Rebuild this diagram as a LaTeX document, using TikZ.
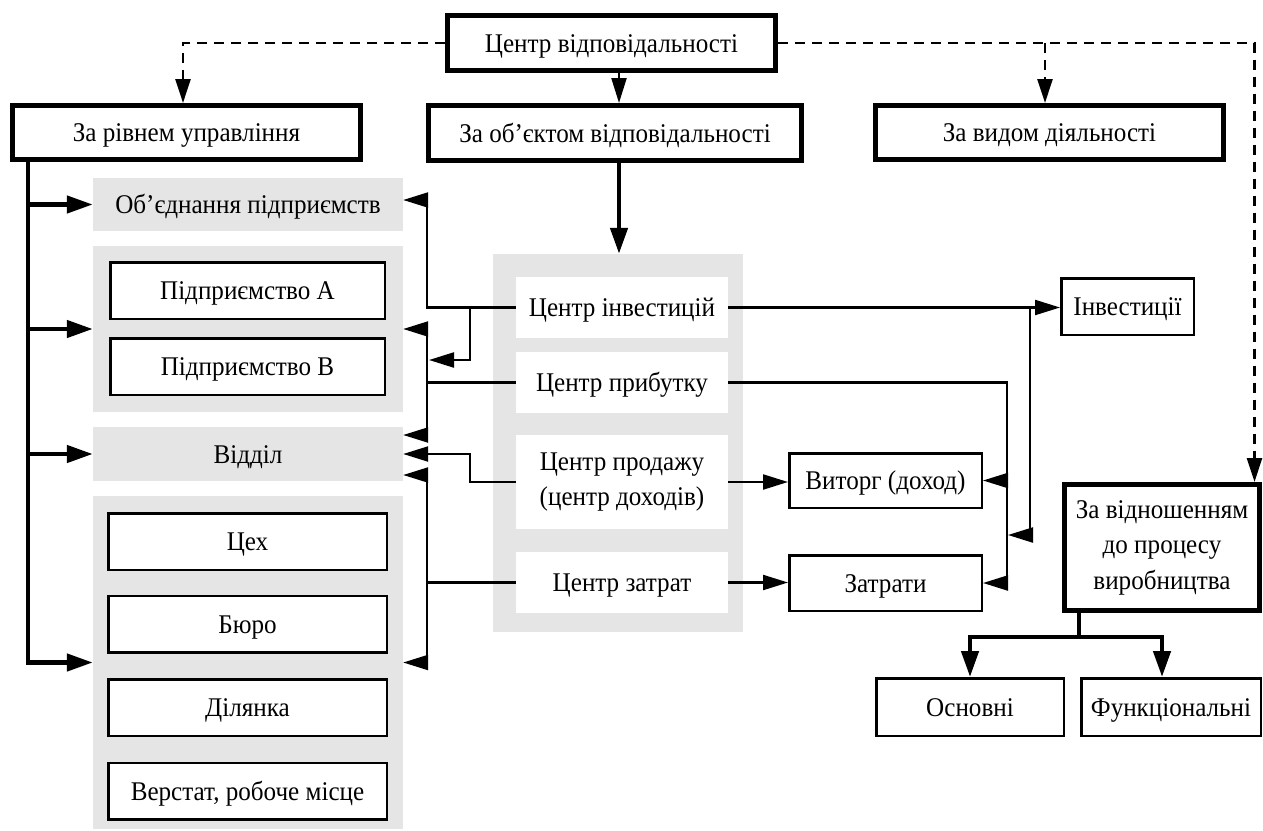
\documentclass[tikz,border=0pt]{standalone}
\usepackage{fontspec}
\setmainfont[FakeStretch=0.93]{Liberation Serif}
\usetikzlibrary{arrows.meta}
\definecolor{panelgray}{HTML}{E5E5E5}
\tikzset{
  every node/.style={font=\fontsize{27}{35.5}\selectfont, inner sep=0pt, align=center,
    text height=23pt, text depth=5pt},
  multi/.style={text height=, text depth=},
  bigbox/.style={draw, line width=5pt, fill=white},
  smallbox/.style={draw, line width=2.5pt, fill=white},
  panel/.style={fill=panelgray, draw=none},
  whitebox/.style={fill=white, draw=none},
  thinline/.style={line width=2.2pt},
  thickline/.style={line width=4.5pt},
  arr/.style={thinline, -{Triangle[length=25pt,width=15pt]}},
  tarr/.style={thickline, -{Triangle[length=26pt,width=17pt]}},
  dasharr/.style={line width=2.5pt, dash pattern=on 10pt off 7pt, -{Triangle[length=24pt,width=15pt]}},
}
\begin{document}
\begin{tikzpicture}[x=1pt,y=-1pt]
\useasboundingbox (0,0) rectangle (1263,830);
% panels
\node[panel, minimum width=310, minimum height=53] (union) at (248,204.5) {Об’єднання підприємств};
\node[panel, minimum width=310, minimum height=166] (entgrp) at (248,329) {};
\node[panel, minimum width=310, minimum height=54] (dept) at (248,454) {Відділ};
\node[panel, minimum width=310, minimum height=333] (shopgrp) at (248,662.5) {};
\node[panel, minimum width=250, minimum height=378] (cpanel) at (618,443) {};
% boxes inside panels
\node[smallbox, minimum width=274.5, minimum height=56.5] (entA) at (247.5,290.5) {Підприємство А};
\node[smallbox, minimum width=274.5, minimum height=56.5] (entB) at (247.5,366.5) {Підприємство В};
\node[smallbox, minimum width=278.5, minimum height=56.5] (shop) at (247.5,541.5) {Цех};
\node[smallbox, minimum width=278.5, minimum height=56.5] (bureau) at (247.5,624) {Бюро};
\node[smallbox, minimum width=278.5, minimum height=56.5] (site) at (247.5,707.5) {Ділянка};
\node[smallbox, minimum width=278.5, minimum height=56.5] (bench) at (247.5,791) {Верстат, робоче місце};
\node[whitebox, minimum width=212, minimum height=61] (ci) at (622,307.5) {Центр інвестицій};
\node[whitebox, minimum width=212, minimum height=61] (cp) at (622,382.5) {Центр прибутку};
\node[whitebox, multi, minimum width=212, minimum height=94] (cs) at (622,482) {Центр продажу\\(центр доходів)};
\node[whitebox, minimum width=212, minimum height=61] (cz) at (622,582.5) {Центр затрат};
% main boxes
\node[bigbox, minimum width=328, minimum height=55] (top) at (611.5,43) {Центр відповідальності};
\node[bigbox, minimum width=348, minimum height=54] (lvl) at (186.5,132.5) {За рівнем управління};
\node[bigbox, minimum width=373, minimum height=55] (obj) at (615,133) {За об’єктом відповідальності};
\node[bigbox, minimum width=348, minimum height=54] (act) at (1049.5,132.5) {За видом діяльності};
\node[bigbox, multi, minimum width=195, minimum height=126] (proc) at (1162,547.5) {За відношенням\\до процесу\\виробництва};
\node[smallbox, minimum width=187.5, minimum height=57.5] (main) at (970,707) {Основні};
\node[smallbox, minimum width=179.5, minimum height=57.5] (func) at (1171,707) {Функціональні};
\node[smallbox, minimum width=132.5, minimum height=56.5] (inv) at (1127.5,306.5) {Інвестиції};
\node[smallbox, minimum width=192.5, minimum height=54.5] (rev) at (885.5,480.5) {Виторг (доход)};
\node[smallbox, minimum width=192.5, minimum height=55.5] (cost) at (885.5,583) {Затрати};
% bend coordinates
\coordinate (trk) at (28,0);
\coordinate (bL) at (427,0);
\coordinate (bM) at (470,0);
\coordinate (bR1) at (1007,0);
\coordinate (bR2) at (1030,0);
\coordinate (jB) at (429,360);
\coordinate (jR) at (1008,535);
\coordinate (pj) at (1079,637);
\coordinate (uE) at ([yshift=4.5pt]union.east);
\coordinate (dA) at ([yshift=19pt]dept.east);
\coordinate (dC) at ([yshift=-21pt]dept.east);
% dashed connectors
\draw[dasharr] (top.west) -| ([xshift=-3.5pt]lvl.north);
\draw[dasharr] (top.east) -| ([xshift=-7.5pt]proc.north east);
\draw[dasharr] ([xshift=-4.5pt]act.north |- top.east) -- ([xshift=-4.5pt]act.north);
% top to object
\draw[arr] ([xshift=7.5pt]top.south) -- ([xshift=7.5pt]top.south |- obj.north);
\draw[tarr] ([xshift=4pt]obj.south) -- ([xshift=4pt]obj.south |- cpanel.north);
% left trunk
\draw[tarr] (trk |- lvl.south) |- (shopgrp.west);
\draw[tarr] (trk |- union.west) -- (union.west);
\draw[tarr] (trk |- entgrp.west) -- (entgrp.west);
\draw[tarr] (trk |- dept.west) -- (dept.west);
% centre to left column
\draw[arr] (ci.west) -| (bL |- uE) -- (uE);
\draw[arr] (bM |- ci.west) |- (jB);
\draw[thinline] (cp.west) -- (bL |- cp.west);
\draw[arr] (bL |- cp.west) |- (entgrp.east);
\draw[arr] (bL |- cp.west) |- (dA);
\draw[arr] (cs.west) -| (bM |- dept.east) -- (dept.east);
\draw[thinline] (cz.west) -- (bL |- cz.west);
\draw[arr] (bL |- cz.west) |- (dC);
\draw[arr] (bL |- cz.west) |- (shopgrp.east);
% centre to right
\draw[arr] (ci.east) -- (ci.east -| inv.west);
\draw[arr] (bR2 |- ci.east) |- (jR);
\draw[thinline] (cp.east) -| (bR1 |- cost.east);
\draw[arr] (bR1 |- rev.east) -- (rev.east);
\draw[arr] (bR1 |- cost.east) -- (cost.east);
\draw[arr] (cs.east) -- (cs.east -| rev.west);
\draw[arr] (cz.east) -- (cz.east -| cost.west);
% process split
\draw[thickline] (pj |- proc.south) -- (pj);
\draw[tarr] (pj) -| (main.north);
\draw[tarr] (pj) -| ([xshift=-9pt]func.north);
\end{tikzpicture}
\end{document}
